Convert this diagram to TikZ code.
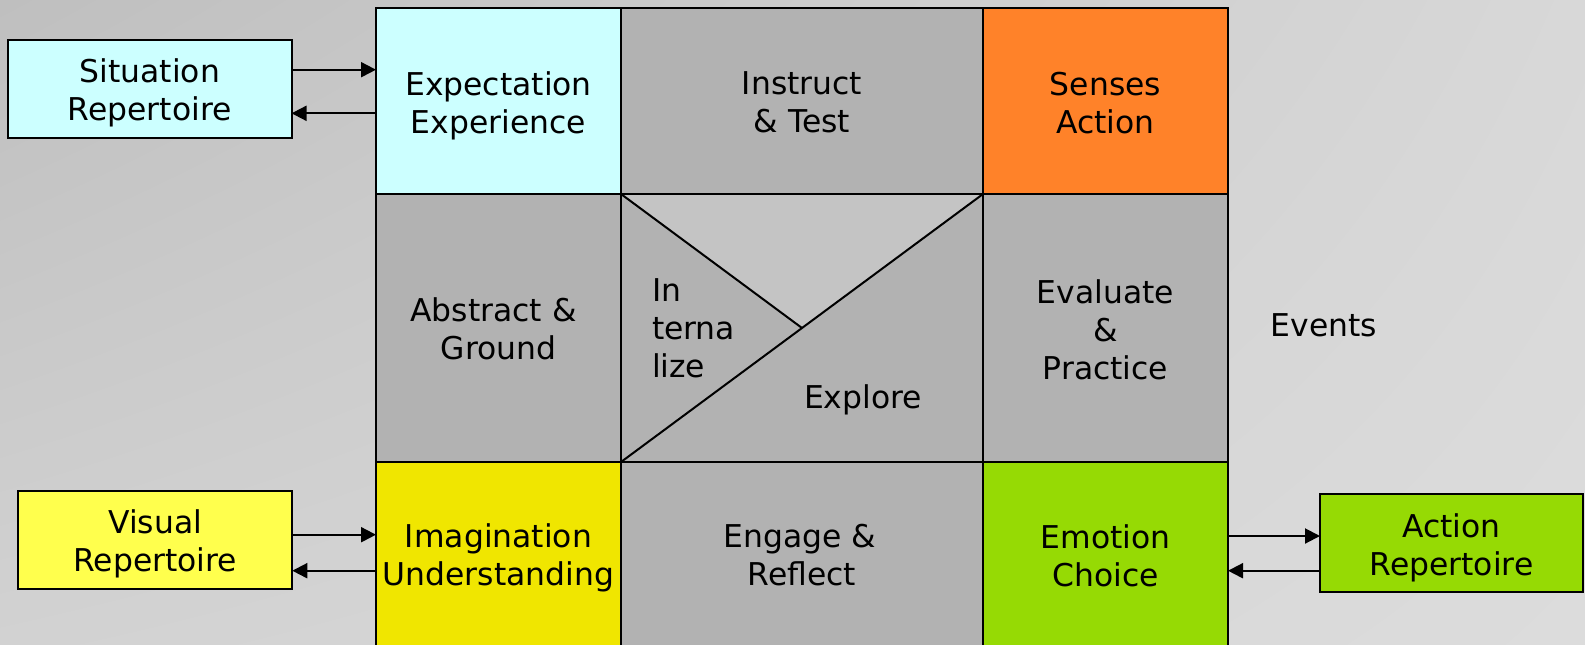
\documentclass[tikz,border=0pt]{standalone}
\usepackage{fontspec}
\setmainfont{DejaVu Sans}
\usetikzlibrary{arrows.meta,shadings}
\definecolor{bgA}{HTML}{BFBFBF}
\definecolor{bgB}{HTML}{D8D8D8}
\definecolor{bgC}{HTML}{D2D2D2}
\definecolor{bgD}{HTML}{DCDCDC}
\definecolor{cyanc}{HTML}{CCFFFF}
\definecolor{grayc}{HTML}{B2B2B2}
\definecolor{tric}{HTML}{C4C4C4}
\definecolor{orangec}{HTML}{FF8229}
\definecolor{yellowc}{HTML}{F0E600}
\definecolor{visc}{HTML}{FFFF4D}
\definecolor{greenc}{HTML}{96DA04}
\begin{document}
\begin{tikzpicture}[x=0.5pt,y=-0.5pt,
  font=\fontsize{15.7}{19}\selectfont,
  cell/.style={draw, line width=1pt, inner sep=0pt, outer sep=0pt, anchor=north west},
  wide/.style={minimum width=181pt},
  narrow/.style={minimum width=122.5pt},
  toprow/.style={minimum height=93.25pt},
  midrow/.style={minimum height=134pt},
  botrow/.style={minimum height=93pt},
  sidebox/.style={draw, line width=1pt, inner sep=0pt, outer sep=0pt, minimum height=49pt},
  arr/.style={line width=1pt, -{Triangle[length=7.5pt,width=7.5pt]}},
  txt/.style={inner sep=0pt, outer sep=0pt},
  lab/.style={txt, align=center}]
\useasboundingbox (0,0) rectangle (1585,644);
\clip (0,0) rectangle (1585,644);
\shade[upper left=bgA, upper right=bgB, lower left=bgC, lower right=bgD] (0,0) rectangle (1585,644);

% grid cells
\node[cell, narrow, toprow, fill=cyanc]   (exp) at (376,7.5) {};
\node[cell, wide,   toprow, fill=grayc]   (ins) at (621,7.5) {};
\node[cell, narrow, toprow, fill=orangec] (sen) at (983,7.5) {};
\node[cell, narrow, midrow, fill=grayc]   (abs) at (376,194) {};
\node[cell, wide,   midrow, fill=grayc]   (mid) at (621,194) {};
\node[cell, narrow, midrow, fill=grayc]   (eva) at (983,194) {};
\node[cell, narrow, botrow, fill=yellowc] (ima) at (376,462) {};
\node[cell, wide,   botrow, fill=grayc]   (eng) at (621,462) {};
\node[cell, narrow, botrow, fill=greenc]  (emo) at (983,462) {};

% middle cell triangle
\fill[tric] (mid.north west) -- (mid.north east) -- (mid.center) -- cycle;
\draw[line width=1pt] (mid.south west) -- (mid.north east);
\draw[line width=1pt] (mid.north west) -- (mid.center);
\draw[line width=1pt] (mid.north west) rectangle (mid.south east);

% cell texts
\node[lab, yshift=-2.5pt]  (expT) at (exp.center) {Expectation\\Experience};
\node[lab, yshift=-1pt]    (insT) at (ins.center) {Instruct\\\& Test};
\node[lab, yshift=-1pt]    (senT) at (sen.center) {Senses\\Action};
\node[lab, yshift=-0.5pt]  (absT) at (abs.center) {Abstract \&\hspace*{5pt}\\Ground};
\node[lab, yshift=-0.75pt] (evaT) at (eva.center) {Evaluate\\\&\\Practice};
\node[lab, yshift=-1.3pt]  (imaT) at (ima.center) {Imagination\\Understanding};
\node[lab, yshift=-0.25pt] (engT) at (eng.center) {Engage \&\hspace*{2pt}\\Reflect};
\node[lab, yshift=-0.25pt] (emoT) at (emo.center) {Emotion\\Choice};

\node[txt, anchor=west, align=left] (inl) at (652,328) {In\\terna\\lize};
\node[txt] (exl) at (863,400) {Explore};
\node[txt] (evt) at (1324,325) {Events};

% side boxes
\node[sidebox, fill=cyanc,  minimum width=141.75pt] (sit) at (149.8,89)    {};
\node[sidebox, fill=visc,   minimum width=137pt]    (vis) at (155.3,539.7) {};
\node[sidebox, fill=greenc, minimum width=131.5pt]  (act) at (1451.5,543)  {};
\node[lab, yshift=-2pt]   (sitT) at (sit.center) {Situation\\Repertoire};
\node[lab, yshift=-2pt]   (visT) at (vis.center) {Visual\\Repertoire};
\node[lab, yshift=-2.4pt] (actT) at (act.center) {Action\\Repertoire};

% connectors
\draw[arr] ([yshift=9.65pt]sit.east) -- ([yshift=9.65pt]sit.east -| exp.west);
\draw[arr] ([yshift=-12.15pt]sit.east -| exp.west) -- ([yshift=-12.15pt]sit.east);
\draw[arr] ([yshift=2.5pt]vis.east) -- ([yshift=2.5pt]vis.east -| ima.west);
\draw[arr] ([yshift=-15.5pt]vis.east -| ima.west) -- ([yshift=-15.5pt]vis.east);
\draw[arr] ([yshift=3.5pt]act.west -| emo.east) -- ([yshift=3.5pt]act.west);
\draw[arr] ([yshift=-13.85pt]act.west) -- ([yshift=-13.85pt]act.west -| emo.east);
\end{tikzpicture}
\end{document}
